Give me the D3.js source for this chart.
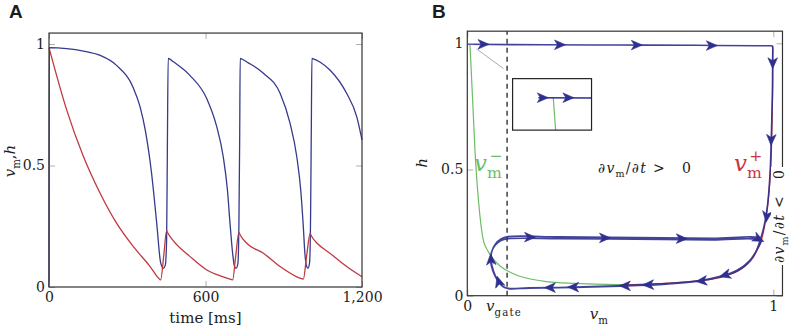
<!DOCTYPE html>
<html lang="en">
<head>
<meta charset="UTF-8">
<title>Gate dynamics</title>
<script src="https://cdn.jsdelivr.net/npm/d3@7"></script>
<style>
    body { margin: 0; background: #fff; }
    svg { display: block; }
    text { font-family: "DejaVu Serif", serif; fill: #1c1c1c; }
    .tag { font-family: "Liberation Sans", Arial, sans-serif; font-weight: bold; font-size: 19px; }
    .frame { fill: none; stroke: #333; stroke-width: 1.2px; }
</style>
</head>
<body>
<svg id="canvas" width="793" height="328"></svg>
<script>
    // ---- panel A : time courses (t in ms)
    const timeTicks = [0, 600, 1200];
    const levelTicks = [0, 0.5, 1];
    const vmTrace = [
        [0, 0], [1, 0.985], [68, 0.981], [132, 0.971], [196, 0.953], [259, 0.912], [323, 0.82],
        [349, 0.742], [370, 0.64], [393, 0.47], [413, 0.262], [428, 0.1], [438, 0.077], [446, 0.09],
        [451, 0.2], [454, 0.6], [457, 0.941], [460, 0.94],
        [477, 0.927], [541, 0.87], [605, 0.775], [643, 0.66], [668, 0.536], [684, 0.4], [694, 0.262],
        [704, 0.139], [711, 0.085], [717, 0.077], [724, 0.095], [728, 0.25], [731, 0.6], [733, 0.941], [736, 0.94],
        [760, 0.925], [822, 0.88], [886, 0.797], [924, 0.674], [950, 0.536], [965, 0.4], [975, 0.248],
        [981, 0.139], [988, 0.084], [993, 0.077], [999, 0.1], [1003, 0.3], [1006, 0.7], [1008, 0.941], [1011, 0.94],
        [1040, 0.925], [1077, 0.893], [1141, 0.797], [1180, 0.7], [1200, 0.605]
    ];
    const hTrace = [
        [0, 0.985], [68, 0.728], [132, 0.537], [196, 0.386], [259, 0.263], [323, 0.167], [387, 0.085],
        [425, 0.031], [428, 0.029], [440, 0.13], [451, 0.232], [455, 0.223],
        [477, 0.19], [541, 0.125], [605, 0.07], [668, 0.042], [701, 0.03], [704, 0.029], [716, 0.13],
        [728, 0.225], [732, 0.216],
        [760, 0.178], [822, 0.139], [886, 0.084], [950, 0.042], [972, 0.033], [975, 0.032], [988, 0.13],
        [1001, 0.221], [1005, 0.212],
        [1030, 0.178], [1077, 0.139], [1141, 0.084], [1200, 0.042]
    ];

    // ---- panel B : phase plane (v_m, h)
    const phaseXTicks = [0, 1];
    const phaseYTicks = [0, 0.5, 1];
    const vGate = 0.13;
    const nullMinus = [
        [0.0087, 0.996], [0.0174, 0.776], [0.025, 0.578], [0.0327, 0.433], [0.041, 0.32],
        [0.052, 0.222], [0.066, 0.18], [0.085, 0.145], [0.11, 0.115], [0.145, 0.09], [0.195, 0.069],
        [0.26, 0.056], [0.35, 0.049], [0.45, 0.045], [0.55, 0.043]
    ];
    const nullPlus = [
        [0.998, 0.99], [0.998, 0.85], [0.996, 0.7], [0.993, 0.55], [0.988, 0.44], [0.981, 0.35],
        [0.972, 0.28], [0.962, 0.225], [0.947, 0.18], [0.93, 0.145], [0.9, 0.11], [0.86, 0.085],
        [0.8, 0.066], [0.72, 0.055], [0.63, 0.048], [0.5, 0.042]
    ];
    const trajectory = [
        [0, 0.996], [0.25, 0.994], [0.5, 0.993], [0.75, 0.992], [0.95, 0.99], [0.99, 0.99], [0.996, 0.99],
        [0.998, 0.984], [0.998, 0.95], [0.997, 0.8], [0.994, 0.65], [0.99, 0.5], [0.983, 0.38], [0.974, 0.3],
        [0.962, 0.24], [0.945, 0.18], [0.92, 0.135], [0.88, 0.1], [0.83, 0.078], [0.76, 0.06],
        [0.65, 0.048], [0.5, 0.04], [0.35, 0.034], [0.2, 0.031], [0.134, 0.029],
        [0.118, 0.036], [0.1, 0.06], [0.085, 0.1], [0.078, 0.14], [0.08, 0.175], [0.092, 0.205],
        [0.11, 0.225], [0.133, 0.234], [0.3, 0.233], [0.55, 0.23], [0.8, 0.227], [0.96, 0.224],
        [0.948, 0.185], [0.925, 0.14], [0.885, 0.1], [0.83, 0.076], [0.76, 0.058], [0.65, 0.046],
        [0.5, 0.038], [0.35, 0.033], [0.2, 0.03], [0.134, 0.028],
        [0.116, 0.036], [0.098, 0.062], [0.083, 0.1], [0.076, 0.14], [0.079, 0.172], [0.091, 0.2],
        [0.11, 0.219], [0.133, 0.226], [0.3, 0.226], [0.55, 0.224], [0.8, 0.221], [0.958, 0.218],
        [0.946, 0.182], [0.922, 0.138], [0.882, 0.1], [0.83, 0.077], [0.76, 0.059], [0.62, 0.045]
    ];
    // arrowheads: position and direction of travel
    const phaseArrows = [
        [0.058, 0.996, 1, 0], [0.308, 0.994, 1, 0], [0.559, 0.993, 1, 0], [0.804, 0.991, 1, 0],
        [0.998, 0.915, 0, -1], [0.993, 0.611, -0.02, -1], [0.978, 0.307, -0.1, -1],
        [0.21, 0.232, 1, 0], [0.455, 0.229, 1, 0], [0.706, 0.226, 1, 0], [0.957, 0.222, 1, -0.6],
        [0.837, 0.08, -1, -0.35], [0.76, 0.058, -1, -0.12], [0.586, 0.043, -1, -0.04],
        [0.51, 0.039, -1, 0], [0.341, 0.034, -1, 0], [0.265, 0.032, -1, 0],
        [0.101, 0.062, -0.25, 1], [0.077, 0.15, -0.05, 1]
    ];
    const insetBox = { v: [0.148, 0.406], h: [0.656, 0.86] };
    const insetView = { v: [-0.015, 0.031], h: [0.961, 1.0166] };
    const insetArrows = [[0.0035, 0.996, 1, 0], [0.0184, 0.996, 1, 0]];
    const zoomLink = [[0.03, 0.978], [0.118, 0.9]];

    const blue = "#2e2f8e", red = "#c8343d", green = "#6cbd68";
    const svg = d3.select("#canvas");

    // sub/superscript text built from tspans
    function mathText(parent, parts, size) {
        const t = parent.append("text").attr("font-size", size);
        let shift = 0, lastSub = null;
        parts.forEach(p => {
            const target = p.sub ? size * 0.3 : p.sup ? -size * 0.45 : 0;
            const s = t.append("tspan").text(p.t)
                .attr("dy", target - shift)
                .attr("font-size", (p.sub || p.sup) ? size * 0.68 : size)
                .attr("font-style", p.it ? "italic" : "normal");
            if (p.sup && lastSub) s.attr("dx", -lastSub.node().getComputedTextLength() * 0.85);
            else if (p.dx) s.attr("dx", p.dx);
            if (p.ls) s.attr("letter-spacing", p.ls);
            lastSub = p.sub ? s : null;
            shift = target;
        });
        return t;
    }

    function frameAxes(g, x, y, xt, yt, xf, yf, xEnd, yEnd) {
        const x0 = x(x.domain()[0]), x1 = x(xEnd), y0 = y(y.domain()[0]), y1 = y(yEnd);
        g.append("g").attr("transform", `translate(0,${y0})`)
            .call(d3.axisBottom(x).tickValues(xt).tickFormat(xf).tickSize(-6).tickPadding(5));
        g.append("g").attr("transform", `translate(0,${y1})`)
            .call(d3.axisTop(x).tickValues(xt).tickFormat("").tickSize(-6));
        g.append("g").attr("transform", `translate(${x0},0)`)
            .call(d3.axisLeft(y).tickValues(yt).tickFormat(yf).tickSize(-6).tickPadding(4));
        g.append("g").attr("transform", `translate(${x1},0)`)
            .call(d3.axisRight(y).tickValues(yt).tickFormat("").tickSize(-6));
        g.selectAll(".domain").remove();
        g.selectAll(".tick line").attr("stroke", "#b0b0b0");
        g.selectAll(".tick text").attr("font-family", "DejaVu Serif").attr("font-size", 14).attr("fill", "#1c1c1c");
        g.append("rect").attr("class", "frame")
            .attr("x", x0).attr("y", y1).attr("width", x1 - x0).attr("height", y0 - y1);
    }

    // ================= panel A
    const xA = d3.scaleLinear().domain([0, 1200]).range([49, 362]);
    const yA = d3.scaleLinear().domain([0, 1]).range([287, 44]);
    const gA = svg.append("g");
    const lineA = d3.line().x(d => xA(d[0])).y(d => yA(d[1])).curve(d3.curveMonotoneX);

    gA.append("path").datum(vmTrace).attr("d", lineA)
        .attr("fill", "none").attr("stroke", "#363a8c").attr("stroke-width", 1.3);
    gA.append("path").datum(hTrace).attr("d", lineA)
        .attr("fill", "none").attr("stroke", "#c0393f").attr("stroke-width", 1.3);
    frameAxes(gA, xA, yA, timeTicks, levelTicks, d3.format(","), d3.format(""), 1200, 1.045);

    gA.append("text").attr("x", xA(600)).attr("y", 323).attr("text-anchor", "middle")
        .attr("font-size", 15).text("time [ms]");
    mathText(gA, [{ t: "v", it: true }, { t: "m", sub: true }, { t: "," }, { t: "h", it: true }], 15)
        .attr("text-anchor", "middle").attr("transform", "translate(15,161) rotate(-90)");
    gA.append("text").attr("class", "tag").attr("x", 9).attr("y", 18).text("A");

    // ================= panel B
    const xB = d3.scaleLinear().domain([0, 1]).range([467.3, 773.3]);
    const yB = d3.scaleLinear().domain([0, 1]).range([295.7, 43.3]);
    const gB = svg.append("g");
    const lineB = d3.line().x(d => xB(d[0])).y(d => yB(d[1]));

    function drawArrows(g, list, x, y) {
        g.selectAll(null).data(list).enter().append("path")
            .attr("d", "M4,0 L-7,-4.8 L-4,0 L-7,4.8 Z")
            .attr("fill", blue).attr("stroke", blue).attr("stroke-width", 0.6).attr("stroke-linejoin", "round")
            .attr("transform", d => {
                const px = x(d[0]), py = y(d[1]);
                const a = Math.atan2(y(d[1] + d[3] * 0.01) - py, x(d[0] + d[2] * 0.01) - px) * 180 / Math.PI;
                return `translate(${px},${py}) rotate(${a})`;
            });
    }

    // dashed gate line
    gB.append("line").attr("x1", xB(vGate)).attr("x2", xB(vGate)).attr("y1", yB(0)).attr("y2", yB(1.048))
        .attr("stroke", "#111").attr("stroke-width", 1.2).attr("stroke-dasharray", "5,4");

    gB.append("path").attr("d", lineB.curve(d3.curveMonotoneX)(nullMinus))
        .attr("fill", "none").attr("stroke", green).attr("stroke-width", 1.2);
    gB.append("path").attr("d", lineB.curve(d3.curveMonotoneY)(nullPlus))
        .attr("fill", "none").attr("stroke", red).attr("stroke-width", 1.3);
    gB.append("path").attr("d", lineB.curve(d3.curveCatmullRom.alpha(0.5))(trajectory))
        .attr("fill", "none").attr("stroke", blue).attr("stroke-width", 1.6).attr("stroke-opacity", 0.9);
    drawArrows(gB, phaseArrows, xB, yB);

    // link from start corner to inset
    gB.append("path").attr("d", d3.line().x(d => xB(d[0])).y(d => yB(d[1]))(zoomLink))
        .attr("stroke", "#aaa").attr("stroke-width", 1).attr("fill", "none");

    // inset (magnified start of trajectory)
    const ix0 = xB(insetBox.v[0]), ix1 = xB(insetBox.v[1]);
    const iy0 = yB(insetBox.h[0]), iy1 = yB(insetBox.h[1]);
    const xI = d3.scaleLinear().domain(insetView.v).range([ix0, ix1]);
    const yI = d3.scaleLinear().domain(insetView.h).range([iy0, iy1]);
    svg.append("clipPath").attr("id", "insetClip").append("rect")
        .attr("x", ix0).attr("y", iy1).attr("width", ix1 - ix0).attr("height", iy0 - iy1);
    const gI = gB.append("g");
    gI.append("rect").attr("x", ix0).attr("y", iy1).attr("width", ix1 - ix0).attr("height", iy0 - iy1)
        .attr("fill", "#fff");
    const gIc = gI.append("g").attr("clip-path", "url(#insetClip)");
    const lineI = d3.line().x(d => xI(d[0])).y(d => yI(d[1]));
    gIc.append("path").attr("d", lineI.curve(d3.curveMonotoneX)(nullMinus))
        .attr("fill", "none").attr("stroke", green).attr("stroke-width", 1.2);
    gIc.append("path").attr("d", lineI.curve(d3.curveCatmullRom.alpha(0.5))(trajectory.slice(0, 5)))
        .attr("fill", "none").attr("stroke", blue).attr("stroke-width", 1.6);
    drawArrows(gIc, insetArrows, xI, yI);
    gI.append("rect").attr("x", ix0).attr("y", iy1).attr("width", ix1 - ix0).attr("height", iy0 - iy1)
        .attr("fill", "none").attr("stroke", "#222").attr("stroke-width", 1.2);

    frameAxes(gB, xB, yB, phaseXTicks, phaseYTicks, d3.format(""), d3.format(""), 1.03, 1.048);

    // labels
    mathText(gB, [{ t: "v", it: true }, { t: "m", sub: true }], 15)
        .attr("text-anchor", "middle").attr("x", xB(0.43)).attr("y", 319);
    mathText(gB, [{ t: "v", it: true }, { t: "gate", sub: true, ls: 1.2 }], 15)
        .attr("x", xB(vGate) - 21).attr("y", 311);
    mathText(gB, [{ t: "h", it: true }], 15)
        .attr("text-anchor", "middle").attr("transform", "translate(427,163) rotate(-90)");
    mathText(gB, [{ t: "v", it: true }, { t: "m", sub: true }, { t: "\u2212", sup: true }], 23)
        .attr("x", 474).attr("y", 171).selectAll("tspan").attr("fill", green);
    mathText(gB, [{ t: "v", it: true }, { t: "m", sub: true }, { t: "+", sup: true }], 23)
        .attr("x", 734).attr("y", 171).selectAll("tspan").attr("fill", red);
    const rateParts = sign => [{ t: "\u2202", it: true }, { t: "v", it: true }, { t: "m", sub: true },
        { t: "/\u2202" }, { t: "t", it: true }, { t: sign, dx: 6 }, { t: "0", dx: 16 }];
    mathText(gB, rateParts(">"), 14)
        .attr("letter-spacing", 1.2).attr("x", 598).attr("y", 173);
    // rotated rate label sits on a white patch over the frame edge
    const gRot = gB.append("g").attr("transform", "translate(784,216) rotate(-90)");
    const rotLabel = mathText(gRot, rateParts("<"), 14)
        .attr("letter-spacing", 1.2).attr("text-anchor", "middle");
    const bb = rotLabel.node().getBBox();
    gRot.insert("rect", "text").attr("x", bb.x - 2).attr("y", bb.y).attr("width", bb.width + 4)
        .attr("height", bb.height).attr("fill", "#fff");
    gB.append("text").attr("class", "tag").attr("x", 432).attr("y", 18).text("B");
</script>
</body>
</html>
